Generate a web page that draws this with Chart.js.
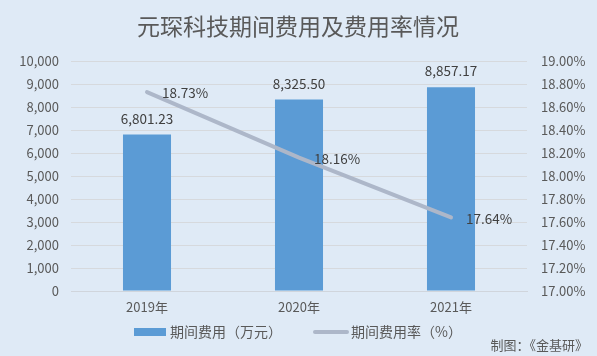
<!DOCTYPE html>
<html><head><meta charset="utf-8">
<script src="https://cdn.jsdelivr.net/npm/chart.js@4"></script>
<style>html,body{margin:0;padding:0;background:#dfeaf6;}#wrap{width:597px;height:356px;}</style>
</head><body><div id="wrap"><canvas id="c" width="597" height="356"></canvas></div>
<script>
const categories = ['2019年', '2020年', '2021年'];
const expenses = [6801.23, 8325.50, 8857.17];
const expenseLabels = ['6,801.23', '8,325.50', '8,857.17'];
const rates = [18.73, 18.16, 17.64];
const rateLabels = ['18.73%', '18.16%', '17.64%'];
const titleText = '元琛科技期间费用及费用率情况';
const legendBar = '期间费用（万元）';
const legendLine = '期间费用率（%）';
const sourceText = '制图：《金基研》';
const FONT = '"Microsoft YaHei","Noto Sans CJK SC","DejaVu Sans",sans-serif';
const BAR = '#5b9bd5', LINE = '#adb7c9', TXT = '#595959', LBL = '#404040';

const extras = {
  id: 'extras',
  beforeDraw(chart) {
    const ctx = chart.ctx;
    ctx.save();
    ctx.fillStyle = '#dfeaf6';
    ctx.fillRect(0, 0, chart.width, chart.height);
    ctx.restore();
  },
  afterDraw(chart) {
    const ctx = chart.ctx;
    ctx.save();
    // title
    ctx.fillStyle = TXT;
    ctx.font = '23px ' + FONT;
    ctx.textAlign = 'center'; ctx.textBaseline = 'middle';
    ctx.fillText(titleText, 298, 26);
    // bar labels
    ctx.font = '13.5px ' + FONT;
    ctx.fillStyle = LBL;
    const m0 = chart.getDatasetMeta(0);
    m0.data.forEach((b, i) => {
      ctx.textAlign = 'center'; ctx.textBaseline = 'middle';
      ctx.fillText(expenseLabels[i], b.x, b.y - 16);
    });
    const m1 = chart.getDatasetMeta(1);
    m1.data.forEach((p, i) => {
      ctx.textAlign = 'left'; ctx.textBaseline = 'middle';
      ctx.fillText(rateLabels[i], p.x + 15, p.y + 1);
    });
    // legend
    ctx.fillStyle = BAR;
    ctx.fillRect(134, 328, 32, 8);
    ctx.fillStyle = TXT;
    ctx.font = '14px ' + FONT;
    ctx.textAlign = 'left'; ctx.textBaseline = 'middle';
    ctx.fillText(legendBar, 170, 332);
    ctx.strokeStyle = LINE; ctx.lineWidth = 4; ctx.lineCap = 'round';
    ctx.beginPath(); ctx.moveTo(315, 332); ctx.lineTo(347, 332); ctx.stroke();
    ctx.fillText(legendLine, 351, 332);
    // source
    ctx.font = '13px ' + FONT;
    ctx.textAlign = 'right';
    ctx.fillText(sourceText, 588, 345);
    ctx.restore();
  }
};

new Chart(document.getElementById('c'), {
  data: {
    labels: categories,
    datasets: [
      { type: 'bar', label: legendBar, data: expenses, backgroundColor: BAR, yAxisID: 'y', categoryPercentage: 1, barPercentage: 0.316, order: 2 },
      { type: 'line', label: legendLine, data: rates, borderColor: LINE, borderWidth: 4, borderCapStyle: 'round', pointRadius: 0, yAxisID: 'y1', tension: 0, order: 1 }
    ]
  },
  options: {
    responsive: false, animation: false,
    layout: { padding: { top: 61, left: 0, right: 0, bottom: 0 } },
    plugins: { legend: { display: false }, title: { display: false }, tooltip: { enabled: false } },
    scales: {
      x: {
        grid: { display: false, drawTicks: false },
        border: { display: true, color: '#d0d5dc' },
        ticks: { color: TXT, font: { size: 13, family: FONT }, padding: 8 },
        afterFit(s) { s.height = 65; }
      },
      y: {
        position: 'left', min: 0, max: 10000,
        ticks: { stepSize: 1000, color: TXT, font: { size: 13, family: FONT }, padding: 12,
          callback: v => v.toLocaleString('en-US') },
        grid: { color: '#d6d9dd', drawTicks: false },
        border: { display: false },
        afterFit(s) { s.width = 71; }
      },
      y1: {
        position: 'right', min: 17, max: 19,
        ticks: { stepSize: 0.2, color: TXT, font: { size: 13, family: FONT }, padding: 14,
          callback: v => v.toFixed(2) + '%' },
        grid: { display: false, drawTicks: false },
        border: { display: false },
        afterFit(s) { s.width = 70; }
      }
    }
  },
  plugins: [extras]
});
</script></body></html>
